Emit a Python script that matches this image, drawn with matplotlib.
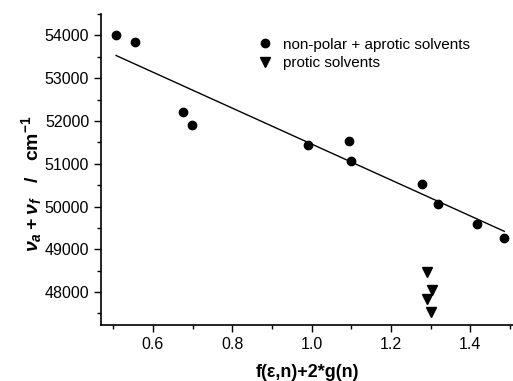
import numpy as np
import matplotlib
matplotlib.use("Agg")
import matplotlib.pyplot as plt
from matplotlib.ticker import MultipleLocator

plt.rcParams["font.family"] = ["Liberation Sans", "DejaVu Sans"]
plt.rcParams["mathtext.fontset"] = "custom"
plt.rcParams["mathtext.rm"] = "Liberation Sans:bold"
plt.rcParams["mathtext.it"] = "Liberation Sans:bold:italic"
plt.rcParams["mathtext.bf"] = "Liberation Sans:bold"

# non-polar + aprotic solvents
aprotic_x = [0.507, 0.555, 0.675, 0.698, 0.99, 1.094, 1.10, 1.278, 1.32, 1.418, 1.486]
aprotic_y = [54000, 53850, 52220, 51910, 51430, 51530, 51060, 50530, 50070, 49600, 49270]

# protic solvents
protic_x = [1.29, 1.303, 1.29, 1.30]
protic_y = [48470, 48050, 47840, 47540]

# linear fit drawn over the aprotic range
fit_x = [0.507, 1.486]
fit_y = [53530, 49420]

fig = plt.figure(figsize=(5.13, 3.81), dpi=100)
ax = fig.add_axes([101 / 513, 56 / 381, 412 / 513, 311 / 381])

ax.plot(aprotic_x, aprotic_y, "o", color="black", markersize=6,
        label="non-polar + aprotic solvents")
ax.plot(protic_x, protic_y, "v", color="black", markersize=7,
        label="protic solvents")
ax.plot(fit_x, fit_y, "-", color="black", linewidth=1)

ax.set_xlim(0.469, 1.508)
ax.set_ylim(47230, 54500)

ax.xaxis.set_major_locator(MultipleLocator(0.2))
ax.xaxis.set_minor_locator(MultipleLocator(0.1))
ax.yaxis.set_major_locator(MultipleLocator(1000))
ax.yaxis.set_minor_locator(MultipleLocator(500))
ax.tick_params(which="major", direction="out", length=5, width=1, labelsize=11.5)
ax.tick_params(which="minor", direction="out", length=3, width=1)

ax.spines["top"].set_visible(False)
ax.spines["right"].set_visible(False)
ax.spines["left"].set_linewidth(1.2)
ax.spines["bottom"].set_linewidth(1.2)

ax.set_xlabel("f(\u03b5,n)+2*g(n)", fontsize=13, fontweight="bold", labelpad=9)
ax.set_ylabel(r"$\nu_a + \nu_f$   /   cm$^{-1}$", fontsize=14, fontweight="bold")
ax.yaxis.set_label_coords(-0.138, 0.455)

ax.legend(loc="upper left", bbox_to_anchor=(0.342, 0.968), frameon=False,
          fontsize=11, handletextpad=0.6, labelspacing=0.3, handlelength=1.2)

fig.savefig("out.png", dpi=100)
